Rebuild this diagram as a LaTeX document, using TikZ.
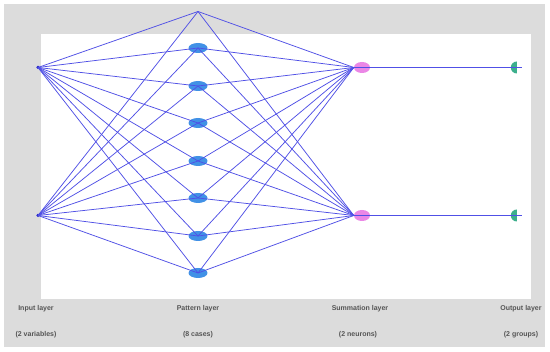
\documentclass[tikz,border=0pt]{standalone}
\usepackage{fontspec}
\setmainfont{Liberation Sans}
\usetikzlibrary{shapes.geometric}
\definecolor{bggray}{RGB}{220,220,220}
\definecolor{wireblue}{RGB}{80,80,230}
\definecolor{inblue}{RGB}{30,30,200}
\definecolor{patblue}{RGB}{65,145,230}
\definecolor{sumpink}{RGB}{235,135,230}
\definecolor{outgreen}{RGB}{60,175,140}
\definecolor{lblgray}{RGB}{85,85,85}

\begin{document}
\begin{tikzpicture}[x=1pt,y=-1pt,
  wire/.style={draw=wireblue,line width=0.75pt},
  innode/.style={circle,fill=inblue,inner sep=0pt,minimum size=3.5pt},
  patnode/.style={ellipse,fill=patblue,inner sep=0pt,minimum width=19pt,minimum height=10pt},
  sumnode/.style={ellipse,fill=sumpink,inner sep=0pt,minimum width=16pt,minimum height=11pt},
  outnode/.style={semicircle,shape border rotate=90,fill=outgreen,inner sep=0pt,minimum width=11pt,minimum height=6pt,anchor=chord center},
  lbl/.style={font=\fontsize{7}{8}\selectfont\bfseries,text=lblgray,inner sep=0pt}]
\useasboundingbox (0,0) rectangle (550,352);
\fill[bggray] (4,4) rectangle (545,347);
\fill[white] (40.7,34) rectangle (531,299);

% input layer
\node[innode] (in1) at (38,67.5) {};
\node[innode] (in2) at (38,215.5) {};

% pattern layer
\coordinate (pat1) at (198,11.5);
\foreach \i/\y in {2/48,3/86,4/123,5/161,6/198,7/236,8/273}
  \node[patnode] (pat\i) at (198,\y) {};

% summation layer
\node[sumnode] (sum1) at (362,67.5) {};
\node[sumnode] (sum2) at (362,215.5) {};

% output layer
\node[outnode] (out1) at (517,67.5) {};
\node[outnode] (out2) at (517,215.5) {};
\coordinate (end1) at (522,67.5);
\coordinate (end2) at (522,215.5);

% connections
\foreach \i in {1,...,8} {
  \foreach \j in {1,2} {
    \draw[wire] (in\j.center) -- (pat\i.center);
    \draw[wire] (pat\i.center) -- (sum\j.west);
  }
}
\foreach \j in {1,2}
  \draw[wire] (sum\j.west) -- (end\j);

% labels
\node[lbl] (l_in) at (36,309) {Input layer};
\node[lbl] (l_in2) at (36,335) {(2 variables)};
\node[lbl] (l_pat) at (198,309) {Pattern layer};
\node[lbl] (l_pat2) at (198,335) {(8 cases)};
\node[lbl] (l_sum) at (360,309) {Summation layer};
\node[lbl] (l_sum2) at (358,335) {(2 neurons)};
\node[lbl] (l_out) at (521,309) {Output layer};
\node[lbl] (l_out2) at (521,335) {(2 groups)};
\end{tikzpicture}
\end{document}
